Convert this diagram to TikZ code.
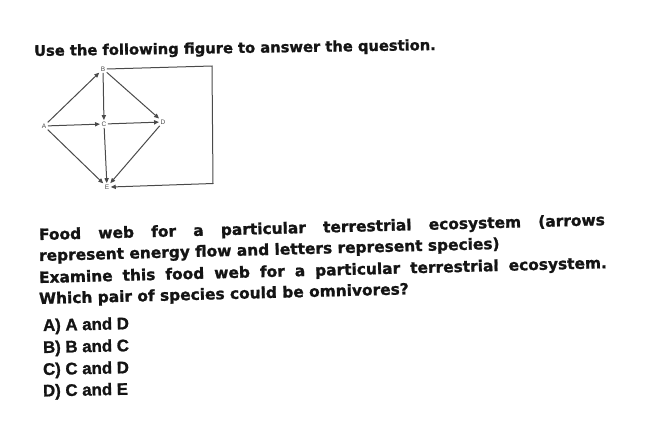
\documentclass[tikz,border=0pt]{standalone}
\usepackage{fontspec}
\setmainfont{DejaVu Sans}[BoldFeatures={FakeBold=1.2}]
\newfontfamily\optfont{Liberation Sans}[BoldFeatures={FakeBold=1.2}]
\newfontfamily\webfont{Liberation Sans}
\usetikzlibrary{arrows.meta}
\definecolor{ink}{HTML}{141414}
\definecolor{webgray}{HTML}{4A4A4A}
\tikzset{
  titletext/.style={anchor=base west, inner sep=0pt, text=ink, font=\bfseries\fontsize{14.7}{16}\selectfont},
  paratext/.style={anchor=base west, inner sep=0pt, text=ink, font=\bfseries\fontsize{15.4}{18}\selectfont, rotate=1.5},
  opttext/.style={anchor=base west, inner sep=0pt, text=ink, font=\optfont\bfseries\fontsize{16.8}{18}\selectfont, rotate=1.2},
  species/.style={inner sep=1.4pt, text=webgray, font=\webfont\fontsize{6.5}{7}\selectfont},
  flow/.style={draw=webgray, line width=1pt, -{Triangle[length=5pt,width=4.2pt]}},
}
\begin{document}
\begin{tikzpicture}[x=1pt,y=-1pt]
\useasboundingbox (0,0) rectangle (648,437);
\fill[white] (0,0) rectangle (648,437);
% title
\node[titletext, rotate=0.85] (title) at (34,56) {Use the following figure to answer the question.};
% food web
\node[species] (A) at (44,126) {A};
\node[species] (B) at (103,69) {B};
\node[species] (C) at (104,124) {C};
\node[species] (D) at (163,122) {D};
\node[species] (E) at (107,187) {E};
\coordinate (k1) at (212,66);
\coordinate (k2) at (213,183.5);
\draw[flow] (A) -- (B);
\draw[flow] (A) -- (C);
\draw[flow] (A) -- (E);
\draw[flow] (B) -- (C);
\draw[flow] (B) -- (D);
\draw[flow] (C) -- (D);
\draw[flow] (C) -- (E);
\draw[flow] (D) -- (E);
\draw[flow] (B.east) -- (k1) -- (k2) -- (E.east);
% question text
\node[paratext] (p1) at (39,240) {\makebox[566pt][s]{Food web for a particular terrestrial ecosystem (arrows}};
\node[paratext] (p2) at (39,261) {represent energy flow and letters represent species)};
\node[paratext] (p3) at (39,283) {\makebox[568pt][s]{Examine this food web for a particular terrestrial ecosystem.}};
\node[paratext] (p4) at (39,304) {Which pair of species could be omnivores?};
% options
\node[opttext] (oa) at (43,331) {A) A and D};
\node[opttext] (ob) at (43,353) {B) B and C};
\node[opttext] (oc) at (43,375) {C) C and D};
\node[opttext] (od) at (43,396.5) {D) C and E};
\end{tikzpicture}
\end{document}
